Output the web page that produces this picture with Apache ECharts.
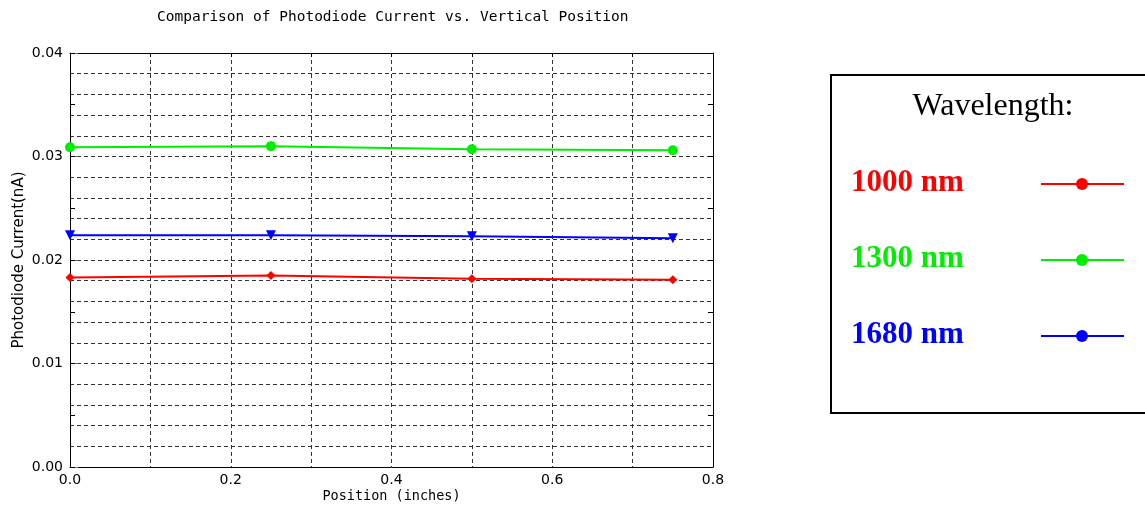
<!DOCTYPE html>
<html>
<head>
<meta charset="utf-8">
<title>Photodiode Current vs. Vertical Position</title>
<script src="https://cdn.jsdelivr.net/npm/echarts@6/dist/echarts.min.js"></script>
<style>
  html, body { margin: 0; padding: 0; background: #fff; }
  #chart { width: 1145px; height: 506px; }
</style>
</head>
<body>
<div id="chart"></div>
<script>
// Measurement positions (inches)
const positions = [0, 0.25, 0.5, 0.75];
// Photodiode current (nA) per wavelength
const current1000 = [0.0183, 0.0185, 0.0182, 0.0181];
const current1300 = [0.0309, 0.0310, 0.0307, 0.0306];
const current1680 = [0.0224, 0.0224, 0.0223, 0.0221];
const seriesNames = ['1000 nm', '1300 nm', '1680 nm'];
const seriesColors = ['#ff0000', '#00ee00', '#0000ff'];
const seriesSymbols = ['diamond', 'circle', 'triangle'];

const chart = echarts.init(document.getElementById('chart'));
const sans = 'DejaVu Sans';
const mono = 'DejaVu Sans Mono';
const serif = 'Liberation Serif';
const gridDash = { color: '#333', type: [4, 3], width: 1 };

function pairs(ys) { return positions.map((x, i) => [x, ys[i]]); }

const values = [current1000, current1300, current1680];
const series = values.map((ys, i) => ({
  name: seriesNames[i],
  type: 'line',
  xAxisIndex: 0,
  yAxisIndex: 0,
  data: pairs(ys),
  symbol: seriesSymbols[i],
  symbolSize: i === 0 ? 9 : 10,
  symbolRotate: i === 2 ? 180 : 0,
  showSymbol: true,
  lineStyle: { color: seriesColors[i], width: 2 },
  itemStyle: { color: seriesColors[i] },
  z: 5
}));

// Legend panel drawn as graphics
const legendTop = [183, 259, 335];
const legendGraphics = [
  { type: 'rect', shape: { x: 831, y: 75, width: 330, height: 338 },
    style: { fill: '#fff', stroke: '#000', lineWidth: 2 } },
  { type: 'text', x: 993, y: 107,
    style: { text: 'Wavelength:', font: '32px "' + serif + '"', fill: '#000',
             align: 'center', verticalAlign: 'middle' } }
];
seriesNames.forEach((name, i) => {
  const y = legendTop[i];
  legendGraphics.push(
    { type: 'text', x: 851, y: y,
      style: { text: name, font: 'bold 31px "' + serif + '"', fill: seriesColors[i],
               align: 'left', verticalAlign: 'middle' } },
    { type: 'line', shape: { x1: 1041, y1: y + 1, x2: 1124, y2: y + 1 },
      style: { stroke: seriesColors[i], lineWidth: 2 } },
    { type: 'circle', shape: { cx: 1082, cy: y + 1, r: 6 },
      style: { fill: seriesColors[i] } }
  );
});

chart.setOption({
  animation: false,
  backgroundColor: '#fff',
  title: {
    text: 'Comparison of Photodiode Current vs. Vertical Position',
    left: 152, top: 5,
    textStyle: { fontFamily: mono, fontSize: 14.5, fontWeight: 'normal', color: '#000' }
  },
  grid: { left: 70, right: 432, top: 53, bottom: 39, containLabel: false,
          outerBoundsMode: 'none' },
  xAxis: [
    {
      type: 'value', min: 0, max: 0.8, interval: 0.2, position: 'bottom',
      name: 'Position (inches)', nameLocation: 'middle', nameGap: 22,
      nameMoveOverlap: false,
      nameTextStyle: { fontFamily: mono, fontSize: 13.5, color: '#000' },
      axisLine: { show: true, lineStyle: { color: '#000', width: 1 } },
      axisTick: { show: false },
      axisLabel: { fontFamily: sans, fontSize: 14, color: '#000', margin: 6,
                   formatter: v => v.toFixed(1) },
      splitLine: { show: true, lineStyle: gridDash },
      minorTick: { show: false, splitNumber: 2 },
      minorSplitLine: { show: true, lineStyle: gridDash }
    },
    {
      type: 'value', min: 0, max: 0.8, interval: 0.1, position: 'top',
      axisLine: { show: true, onZero: false, lineStyle: { color: '#000', width: 1 } },
      axisTick: { show: true, inside: true, length: 4, lineStyle: { color: '#000' } },
      axisLabel: { show: false },
      splitLine: { show: false }
    }
  ],
  yAxis: [
    {
      type: 'value', min: 0, max: 0.04, interval: 0.01, position: 'left',
      name: 'Photodiode Current(nA)', nameLocation: 'middle', nameGap: 43,
      nameMoveOverlap: false,
      nameTextStyle: { fontFamily: sans, fontSize: 15, color: '#000' },
      axisLine: { show: true, onZero: false, lineStyle: { color: '#000', width: 1 } },
      axisTick: { show: true, inside: true, length: 8, lineStyle: { color: '#777' } },
      axisLabel: { fontFamily: sans, fontSize: 14, color: '#000', margin: 7,
                   formatter: v => v.toFixed(2) },
      splitLine: { show: true, lineStyle: gridDash },
      minorTick: { show: false, splitNumber: 5 },
      minorSplitLine: { show: true, lineStyle: gridDash }
    },
    {
      type: 'value', min: 0, max: 0.04, interval: 0.005, position: 'left',
      axisLine: { show: false },
      axisTick: { show: true, inside: true, length: 5, lineStyle: { color: '#000' } },
      axisLabel: { show: false },
      splitLine: { show: false }
    },
    {
      type: 'value', min: 0, max: 0.04, interval: 0.005, position: 'right',
      axisLine: { show: true, onZero: false, lineStyle: { color: '#000', width: 1 } },
      axisTick: { show: true, inside: true, length: 5, lineStyle: { color: '#000' } },
      axisLabel: { show: false },
      splitLine: { show: false }
    }
  ],
  series: series,
  graphic: legendGraphics
});
</script>
</body>
</html>
